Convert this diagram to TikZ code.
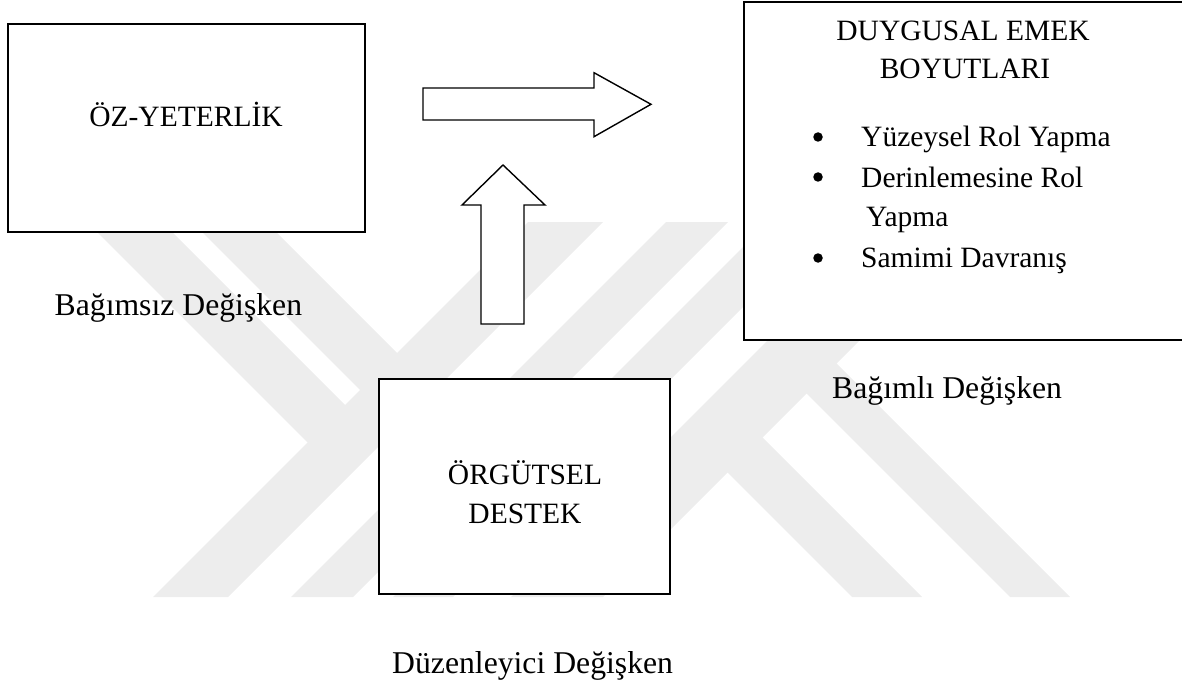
\documentclass[tikz,border=0pt]{standalone}
\usepackage{fontspec}
\setmainfont{Liberation Serif}
\definecolor{wmgray}{gray}{0.93}
\begin{document}
\begin{tikzpicture}[x=1pt,y=-1pt,
  mybox/.style={draw=black, line width=1.8pt, fill=white, inner sep=0pt},
  blockarrow/.style={draw=black, line width=1.4pt, fill=white, line join=miter},
  boxtext/.style={font=\fontsize{29.5}{35}\selectfont, inner sep=0pt, anchor=base},
  itemtext/.style={font=\fontsize{29.5}{35}\selectfont, inner sep=0pt, anchor=base west},
  vartext/.style={font=\fontsize{31.7}{38}\selectfont, inner sep=0pt, anchor=base west},
  bulletdot/.style={circle, fill=black, draw=none, inner sep=0pt, minimum size=9.5pt},
  wmband/.style={fill=wmgray, draw=none}]
\useasboundingbox (0,0) rectangle (1182,687);
% watermark
\begin{scope}
\clip (0,222) rectangle (1182,597);
\fill[wmband] (528,222) -- (603,222) -- (228,597) -- (153,597) -- cycle;
\fill[wmband] (666,222) -- (728,222) -- (353,597) -- (291,597) -- cycle;
\fill[wmband] (768,222) -- (828,222) -- (453,597) -- (393,597) -- cycle;
\fill[wmband] (886,222) -- (978,222) -- (603,597) -- (511,597) -- cycle;
\fill[wmband] (87,222) -- (162,222) -- (350,410) -- (312.5,447.5) -- cycle;
\fill[wmband] (192,222) -- (266,222) -- (402,358) -- (365,395) -- cycle;
\fill[wmband] (725,470) -- (760,435) -- (922,597) -- (852,597) -- cycle;
\fill[wmband] (804,391) -- (834,361) -- (1070,597) -- (1010,597) -- cycle;
\end{scope}
% boxes
\node[mybox, minimum width=357pt, minimum height=208pt] (ozbox) at (186.5,128) {};
\node[mybox, minimum width=446pt, minimum height=338pt] (debox) at (967,171) {};
\node[mybox, minimum width=291pt, minimum height=215pt] (orgbox) at (524.5,486.5) {};
% block arrows
\coordinate (ra) at (423,88);
\draw[blockarrow] (ra) -- (594,88) -- (594,72.7) -- (651,104.3) -- (594,136.7) -- (594,120) -- (423,120) -- cycle;
\coordinate (ua) at (481,324);
\draw[blockarrow] (ua) -- (481,205) -- (462,205) -- (503,165) -- (545,205) -- (524,205) -- (524,324) -- cycle;
% texts
\node[boxtext] (oztext) at (186,126.7) {ÖZ-YETERLİK};
\node[vartext] (bagimsiz) at (54.5,315) {Bağımsız Değişken};
\node[boxtext] (title1) at (963,41) {DUYGUSAL EMEK};
\node[boxtext] (title2) at (965,79) {BOYUTLARI};
\node[bulletdot] (bul1) at (818,137) {};
\node[bulletdot] (bul2) at (818,177) {};
\node[bulletdot] (bul3) at (818,258) {};
\node[itemtext] (it1) at (861,147) {Yüzeysel Rol Yapma};
\node[itemtext] (it2) at (861,187) {Derinlemesine Rol};
\node[itemtext] (it2b) at (866,226) {Yapma};
\node[itemtext] (it3) at (861,267) {Samimi Davranış};
\node[vartext] (bagimli) at (832,398) {Bağımlı Değişken};
\node[boxtext] (org1) at (525,484) {ÖRGÜTSEL};
\node[boxtext] (org2) at (525,523) {DESTEK};
\node[vartext] (duz) at (392,673) {Düzenleyici Değişken};
\end{tikzpicture}
\end{document}
